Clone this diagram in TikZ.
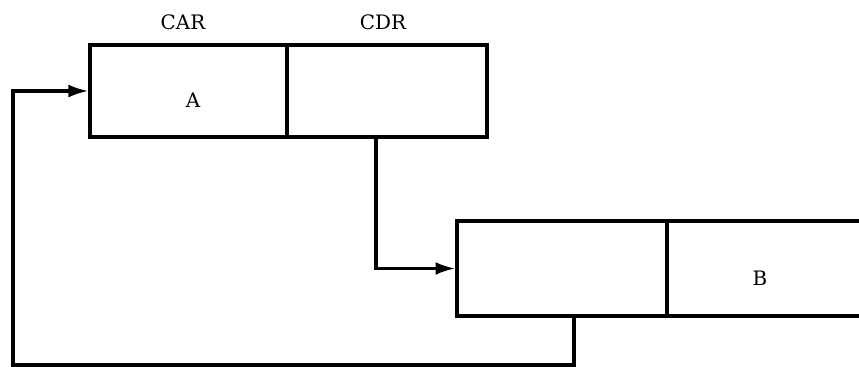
\documentclass[tikz,border=0pt]{standalone}
\usepackage{fontspec}
\setmainfont{DejaVu Serif}
\usetikzlibrary{arrows.meta}
\begin{document}
\begin{tikzpicture}[x=0.03cm,y=-0.03cm,
  cell/.style={draw,line width=2.7pt,inner sep=0pt},
  arr/.style={line width=2.6pt,-{Latex[length=17pt,width=11pt]}},
  lbl/.style={font=\fontsize{17}{20}\selectfont,inner sep=0pt}]
\useasboundingbox (0,0) rectangle (859,367);
\clip (0,0) rectangle (859,367);
\node[cell,minimum width=5.91cm,minimum height=2.76cm] (car1) at (188.5,91) {};
\node[cell,minimum width=6.00cm,minimum height=2.76cm] (cdr1) at (387,91) {};
\node[cell,minimum width=6.30cm,minimum height=2.85cm] (car2) at (562,268.5) {};
\node[cell,minimum width=6.30cm,minimum height=2.85cm] (cdr2) at (772,268.5) {};
\node[lbl] (carl) at (183,22) {CAR};
\node[lbl] (cdrl) at (383,22) {CDR};
\node[lbl] (a) at (193,100) {A};
\node[lbl] (b) at (760,278) {B};
\coordinate (low) at (13,365);
\draw[arr] ([xshift=-0.33cm]cdr1.south) |- (car2.west);
\draw[arr] ([xshift=0.36cm]car2.south) |- (low) |- (car1.west);
\end{tikzpicture}
\end{document}
